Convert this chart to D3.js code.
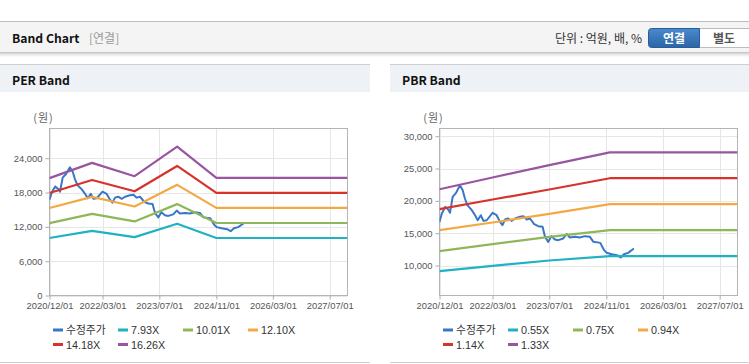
<!DOCTYPE html>
<html>
<head>
<meta charset="utf-8">
<script src="https://cdn.jsdelivr.net/npm/d3@7"></script>
<style>
    body { margin: 0; background: #ffffff; }
    svg { display: block; font-family: 'Liberation Sans', Arial, 'Noto Sans CJK KR', sans-serif; }
</style>
</head>
<body>
<div id="chart"></div>
<script>
'use strict';

// ================ data
var xTickLabels = ['2020/12/01', '2022/03/01', '2023/07/01', '2024/11/01', '2026/03/01', '2027/07/01'];
var perTicks = [0, 6000, 12000, 18000, 24000];
var pbrTicks = [10000, 15000, 20000, 25000, 30000];

var priceDates = ['2020-12-01', '2020-12-21', '2021-01-19', '2021-02-17', '2021-03-01', '2021-03-24', '2021-04-22',
    '2021-05-25', '2021-06-18', '2021-07-07', '2021-07-28', '2021-09-04', '2021-10-02', '2021-10-25', '2021-11-20',
    '2021-12-13', '2022-01-10', '2022-03-01', '2022-04-05', '2022-05-04', '2022-05-25', '2022-06-16', '2022-07-13',
    '2022-08-12', '2022-09-10', '2022-10-22', '2022-11-21', '2022-12-19', '2023-01-16', '2023-02-21', '2023-03-28',
    '2023-05-04', '2023-05-25', '2023-06-22', '2023-07-19', '2023-08-18', '2023-09-16', '2023-10-28', '2023-11-27',
    '2023-12-25', '2024-02-07', '2024-03-19', '2024-05-01', '2024-06-13', '2024-07-13', '2024-09-10', '2024-10-13',
    '2024-11-04', '2024-12-16', '2025-02-01', '2025-03-04', '2025-04-01', '2025-05-07', '2025-06-25'];
var priceValues = [16750, 18040, 19070, 18560, 18150, 20620, 21240,
    22420, 21650, 20360, 19330, 18560, 17780, 17010, 17780,
    16900, 17000, 18150, 17780, 16750, 16240, 17110, 17270,
    16900, 17270, 17530, 17630, 17110, 17270, 16390, 16080,
    15980, 14430, 13660, 14540, 14020, 13920, 14180, 14850,
    14330, 14430, 14330, 14540, 14430, 13660, 13500, 12370,
    11960, 11750, 11600, 11240, 11750, 11960, 12630];

var perBandDates = ['2020-12-01', '2021-12-01', '2022-12-01', '2023-12-01', '2024-11-01', '2027-12-01'];
var perBandNames = ['7.93X', '10.01X', '12.10X', '14.18X', '16.26X'];
var per793 = [10050, 11300, 10200, 12550, 10050, 10050];
var per1001 = [12650, 14270, 12950, 15980, 12680, 12680];
var per1210 = [15300, 17250, 15560, 19350, 15320, 15320];
var per1418 = [17920, 20200, 18220, 22650, 17940, 17940];
var per1626 = [20520, 23190, 20860, 26040, 20570, 20570];

var pbrBandDates = ['2020-12-01', '2022-03-01', '2023-07-01', '2024-12-01', '2027-12-01'];
var pbrBandNames = ['0.55X', '0.75X', '0.94X', '1.14X', '1.33X'];
var pbr055 = [9120, 9950, 10770, 11440, 11440];
var pbr075 = [12220, 13300, 14430, 15460, 15460];
var pbr094 = [15460, 16650, 17990, 19500, 19500];
var pbr114 = [18710, 20210, 21750, 23500, 23500];
var pbr133 = [21800, 23610, 25520, 27500, 27500];

var bandColors = ['#20b1c2', '#8fb75a', '#f3a943', '#d5332c', '#99559f'];
var priceColor = '#3877c8';

var W = 749, H = 364,
    parse = d3.timeParse('%Y-%m-%d'),
    tickParse = d3.timeParse('%Y/%m/%d');

var svg = d3.select('#chart').append('svg')
    .attr('width', W)
    .attr('height', H);

var defs = svg.append('defs');
var shadow = defs.append('linearGradient').attr('id', 'shadow').attr('x1', 0).attr('x2', 0).attr('y1', 0).attr('y2', 1);
shadow.append('stop').attr('offset', '0%').attr('stop-color', '#d6d6d6');
shadow.append('stop').attr('offset', '100%').attr('stop-color', '#ffffff');
var btn = defs.append('linearGradient').attr('id', 'btn').attr('x1', 0).attr('x2', 0).attr('y1', 0).attr('y2', 1);
btn.append('stop').attr('offset', '0%').attr('stop-color', '#4a89cc');
btn.append('stop').attr('offset', '100%').attr('stop-color', '#2b66a6');

// ================ top header bar
svg.append('rect').attr('x', 0).attr('y', 22).attr('width', W).attr('height', 30).attr('fill', '#f4f4f4');
svg.append('line').attr('x1', 0).attr('x2', W).attr('y1', 21.5).attr('y2', 21.5).attr('stroke', '#bdbdbd');
svg.append('line').attr('x1', 0).attr('x2', W).attr('y1', 52.5).attr('y2', 52.5).attr('stroke', '#c4c4c4');
svg.append('rect').attr('x', 0).attr('y', 53).attr('width', W).attr('height', 4).attr('fill', 'url(#shadow)');

svg.append('text')
    .attr('x', 12).attr('y', 42.5)
    .attr('font-family', "'Noto Sans CJK KR', sans-serif")
    .attr('font-weight', 'bold')
    .attr('font-size', '12.2px')
    .attr('fill', '#111')
    .text('Band Chart');
svg.append('text')
    .attr('x', 89).attr('y', 42.5)
    .attr('font-family', "'Noto Sans CJK KR', sans-serif")
    .attr('font-size', '12px')
    .attr('fill', '#999')
    .text('[연결]');
svg.append('text')
    .attr('x', 642).attr('y', 42.5)
    .attr('text-anchor', 'end')
    .attr('font-family', "'Noto Sans CJK KR', sans-serif")
    .attr('font-size', '12px')
    .attr('fill', '#333')
    .text('단위 : 억원, 배, %');

svg.append('rect').attr('x', 699.5).attr('y', 28.5).attr('width', 52).attr('height', 19)
    .attr('fill', '#ffffff').attr('stroke', '#bcbcbc');
svg.append('path')
    .attr('d', 'M699.5,28.5H651.5A3,3,0,0,0,648.5,31.5V44.5A3,3,0,0,0,651.5,47.5H699.5Z')
    .attr('fill', 'url(#btn)').attr('stroke', '#2a5e98');
svg.append('text')
    .attr('x', 674).attr('y', 42.5)
    .attr('text-anchor', 'middle')
    .attr('font-family', "'Noto Sans CJK KR', sans-serif")
    .attr('font-weight', 'bold')
    .attr('font-size', '12px')
    .attr('fill', '#ffffff')
    .text('연결');
svg.append('text')
    .attr('x', 724).attr('y', 42.5)
    .attr('text-anchor', 'middle')
    .attr('font-family', "'Noto Sans CJK KR', sans-serif")
    .attr('font-weight', 'bold')
    .attr('font-size', '12px')
    .attr('fill', '#555')
    .text('별도');

// ================ one band panel
function drawPanel(opt) {
    var g = svg.append('g');

    // panel header
    g.append('rect').attr('x', opt.px).attr('y', 65).attr('width', opt.pw).attr('height', 27).attr('fill', '#eef1f6');
    g.append('line').attr('x1', opt.px).attr('x2', opt.px + opt.pw).attr('y1', 64.5).attr('y2', 64.5).attr('stroke', '#cfcfcf');
    g.append('line').attr('x1', opt.px).attr('x2', opt.px + opt.pw).attr('y1', 362.5).attr('y2', 362.5).attr('stroke', '#cfcfcf');
    g.append('text')
        .attr('x', opt.px + 12).attr('y', 84.5)
        .attr('font-family', "'Noto Sans CJK KR', sans-serif")
        .attr('font-weight', 'bold')
        .attr('font-size', '12.2px')
        .attr('fill', '#111')
        .text(opt.title);

    var left = opt.left, right = opt.left + 298, top = 128.5, bottom = 295.5;
    var x = d3.scaleTime()
        .domain([parse('2020-12-01'), parse('2027-12-01')])
        .range([left, right]);
    var y = d3.scaleLinear()
        .domain(opt.yDomain)
        .range([bottom, top]);

    // grid
    g.append('g').selectAll('line').data(xTickLabels).enter().append('line')
        .attr('x1', function(d){ return Math.round(x(tickParse(d))) + 0.5; })
        .attr('x2', function(d){ return Math.round(x(tickParse(d))) + 0.5; })
        .attr('y1', top).attr('y2', bottom)
        .attr('stroke', '#e6e6e6');
    g.append('g').selectAll('line').data(opt.yTicks).enter().append('line')
        .attr('y1', function(d){ return Math.round(y(d)) + 0.5; })
        .attr('y2', function(d){ return Math.round(y(d)) + 0.5; })
        .attr('x1', left).attr('x2', right)
        .attr('stroke', '#e6e6e6');

    // axes
    var xAxis = d3.axisBottom(x)
        .tickValues(xTickLabels.map(function(d){ return tickParse(d); }))
        .tickFormat(d3.timeFormat('%Y/%m/%d'))
        .tickSize(4).tickSizeOuter(0).tickPadding(3);
    var xg = g.append('g').attr('transform', 'translate(0,' + bottom + ')').call(xAxis);
    var yAxis = d3.axisLeft(y)
        .tickValues(opt.yTicks)
        .tickFormat(d3.format(','))
        .tickSize(4).tickSizeOuter(0).tickPadding(3);
    var yg = g.append('g').attr('transform', 'translate(' + left + ',0)').call(yAxis);
    [xg, yg].forEach(function(a){
        a.select('.domain').remove();
        a.selectAll('line').attr('stroke', '#aaaaaa');
        a.selectAll('text')
            .attr('fill', '#555')
            .attr('font-size', '9.4px')
            .attr('font-family', "'Liberation Sans', Arial, sans-serif");
    });

    g.append('rect')
        .attr('x', left).attr('y', top)
        .attr('width', right - left).attr('height', bottom - top)
        .attr('fill', 'none').attr('stroke', '#b4b4b4');

    g.append('text')
        .attr('x', left - 6).attr('y', 122)
        .attr('text-anchor', 'middle')
        .attr('font-family', "'Noto Sans CJK KR', sans-serif")
        .attr('font-size', '11px')
        .attr('letter-spacing', '1px')
        .attr('fill', '#666')
        .text('(원)');

    // lines
    var clipId = 'clip' + opt.title.charAt(1);
    defs.append('clipPath').attr('id', clipId).append('rect')
        .attr('x', left).attr('y', top).attr('width', right - left).attr('height', bottom - top);
    var plot = g.append('g').attr('clip-path', 'url(#' + clipId + ')');
    var line = d3.line()
        .x(function(d){ return x(d.date); })
        .y(function(d){ return y(d.value); });

    var price = priceDates.map(function(d, i){ return {date: parse(d), value: priceValues[i]}; });
    plot.append('path')
        .attr('d', line(price))
        .attr('fill', 'none')
        .attr('stroke', priceColor)
        .attr('stroke-width', 2)
        .attr('stroke-linejoin', 'round');

    opt.bands.forEach(function(vals, k){
        var pts = opt.bandDates.map(function(d, i){ return {date: parse(d), value: vals[i]}; });
        plot.append('path')
            .attr('d', line(pts))
            .attr('fill', 'none')
            .attr('stroke', bandColors[k])
            .attr('stroke-width', 2.2)
            .attr('stroke-linejoin', 'round');
    });

    // legend
    var items = [{name: '수정주가', color: priceColor}].concat(opt.bandNames.map(function(n, k){
        return {name: n, color: bandColors[k]};
    }));
    var leg = g.append('g').selectAll('g').data(items).enter().append('g')
        .attr('transform', function(d, i){
            return 'translate(' + (left + 3.5 + (i % 4) * 65) + ',' + (330 + Math.floor(i / 4) * 14.5) + ')';
        });
    leg.append('line')
        .attr('x1', 0).attr('x2', 10).attr('y1', 0).attr('y2', 0)
        .attr('stroke', function(d){ return d.color; })
        .attr('stroke-width', 3);
    leg.append('text')
        .attr('x', 13).attr('y', 4)
        .attr('font-size', '10.8px')
        .attr('fill', '#333')
        .text(function(d){ return d.name; });
}

drawPanel({
    title: 'PER Band', px: 0, pw: 370, left: 49.5,
    yDomain: [0, 29200], yTicks: perTicks,
    bandDates: perBandDates, bandNames: perBandNames,
    bands: [per793, per1001, per1210, per1418, per1626]
});
drawPanel({
    title: 'PBR Band', px: 390, pw: 359, left: 439.5,
    yDomain: [5360, 31190], yTicks: pbrTicks,
    bandDates: pbrBandDates, bandNames: pbrBandNames,
    bands: [pbr055, pbr075, pbr094, pbr114, pbr133]
});
</script>
</body>
</html>
